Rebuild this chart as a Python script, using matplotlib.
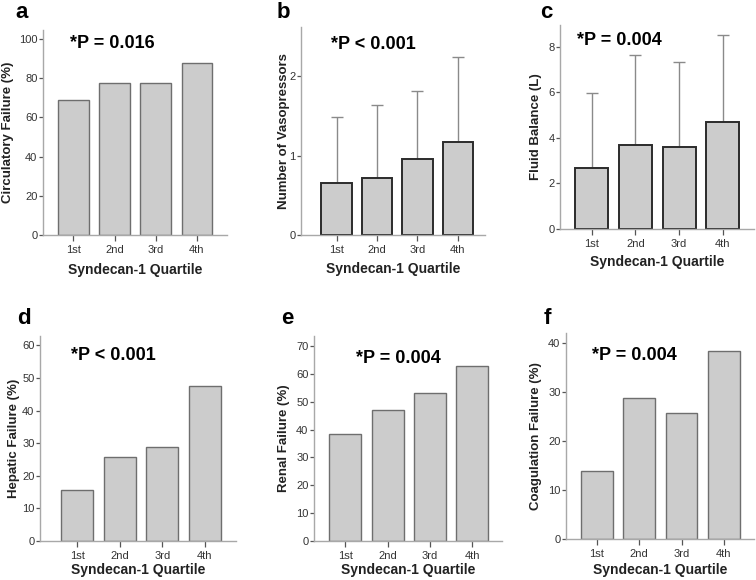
import matplotlib
matplotlib.use("Agg")
import matplotlib.pyplot as plt

plt.rcParams["font.family"] = ["Liberation Sans", "DejaVu Sans"]

quartiles = ["1st", "2nd", "3rd", "4th"]
xlabel = "Syndecan-1 Quartile"

circulatory = [69.0, 77.5, 77.5, 88.0]
vasopressors = [0.66, 0.72, 0.96, 1.17]
vasopressors_upper = [1.49, 1.64, 1.82, 2.24]
fluid = [2.68, 3.68, 3.60, 4.68]
fluid_upper = [5.97, 7.62, 7.33, 8.50]
hepatic = [15.5, 25.8, 28.8, 47.7]
renal = [38.5, 47.0, 53.0, 63.0]
coagulation = [13.9, 28.8, 25.8, 38.5]

letters = ["a", "b", "c", "d", "e", "f"]
ylabels = ["Circulatory Failure (%)", "Number of Vasopressors", "Fluid Balance (L)",
           "Hepatic Failure (%)", "Renal Failure (%)", "Coagulation Failure (%)"]
ptexts = ["*P = 0.016", "*P < 0.001", "*P = 0.004", "*P < 0.001", "*P = 0.004", "*P = 0.004"]
yticks = [range(0, 101, 20), [0, 1, 2], range(0, 9, 2),
          range(0, 61, 10), range(0, 71, 10), range(0, 41, 10)]

W, H = 756, 580
FILL, EDGE, DARK, SPINE, ERR, TXT = "#cccccc", "#6e6e6e", "#2b2b2b", "#a8a8a8", "#8a8a8a", "#333333"

# pixel layout: (left, top, right, bottom), xlim, ylim, ylabel x, xlabel y, ptext pos, letter pos
layout = [
    dict(box=(43, 30, 227, 235), xlim=(0.26, 4.73), ylim=(0, 104.6), ylx=-0.16, xly=-0.135,
         pt=(0.147, 0.933), let=(15, 13)),
    dict(box=(301, 27, 485, 235), xlim=(0.12, 4.67), ylim=(0, 2.62), ylx=-0.06, xly=-0.13,
         pt=(0.163, 0.917), let=(277, 13)),
    dict(box=(560, 25, 754, 229), xlim=(0.28, 4.71), ylim=(0, 8.95), ylx=-0.095, xly=-0.127,
         pt=(0.089, 0.926), let=(540, 13)),
    dict(box=(40, 336, 236, 541), xlim=(0.13, 4.73), ylim=(0, 62.9), ylx=-0.1, xly=-0.109,
         pt=(0.158, 0.906), let=(17, 319)),
    dict(box=(314, 336, 502, 541), xlim=(0.26, 4.70), ylim=(0, 73.6), ylx=-0.13, xly=-0.109,
         pt=(0.221, 0.89), let=(281, 318)),
    dict(box=(566, 333, 754, 539), xlim=(0.27, 4.71), ylim=(0, 42.1), ylx=-0.13, xly=-0.115,
         pt=(0.136, 0.89), let=(544, 318)),
]

series = [circulatory, vasopressors, fluid, hepatic, renal, coagulation]
uppers = [None, vasopressors_upper, fluid_upper, None, None, None]

fig = plt.figure(figsize=(W / 100, H / 100), dpi=100, facecolor="white")
x = [1, 2, 3, 4]
for i, lay in enumerate(layout):
    l, t, r, b = lay["box"]
    ax = fig.add_axes([l / W, 1 - b / H, (r - l) / W, (b - t) / H])
    vals, up = series[i], uppers[i]
    edge, lw = (DARK, 1.4) if up is not None else (EDGE, 1.0)
    ax.bar(x, vals, width=0.75, color=FILL, edgecolor=edge, linewidth=lw, zorder=2)
    if up is not None:
        err = [[0] * 4, [u - v for u, v in zip(up, vals)]]
        ax.errorbar(x, vals, yerr=err, fmt="none", ecolor=ERR, elinewidth=1.0,
                    capsize=4, capthick=1.0, zorder=1)
    ax.set_xlim(*lay["xlim"])
    ax.set_ylim(*lay["ylim"])
    ax.set_xticks(x)
    ax.set_xticklabels(quartiles)
    ax.set_yticks(list(yticks[i]))
    for sp in ("top", "right"):
        ax.spines[sp].set_visible(False)
    for sp in ("left", "bottom"):
        ax.spines[sp].set_color(SPINE)
        ax.spines[sp].set_linewidth(1.0)
    ax.tick_params(axis="both", direction="out", length=3, width=0.9, color="#555555",
                   labelsize=8, labelcolor=TXT, pad=1)
    ax.tick_params(axis="x", length=4, pad=3)
    ax.set_ylabel(ylabels[i], fontsize=9.5, fontweight="bold", color="#222222")
    ax.set_xlabel(xlabel, fontsize=10, fontweight="bold", color="#222222")
    ax.yaxis.set_label_coords(lay["ylx"], 0.5)
    ax.xaxis.set_label_coords(0.5, lay["xly"])
    ax.text(*lay["pt"], ptexts[i], transform=ax.transAxes, fontsize=13, fontweight="bold",
            color="black", ha="left", va="center")
    lx, ly = lay["let"]
    fig.text(lx / W, 1 - ly / H, letters[i], fontsize=16, fontweight="bold",
             color="black", ha="left", va="center")

fig.savefig("out.png", dpi=100, facecolor="white")
